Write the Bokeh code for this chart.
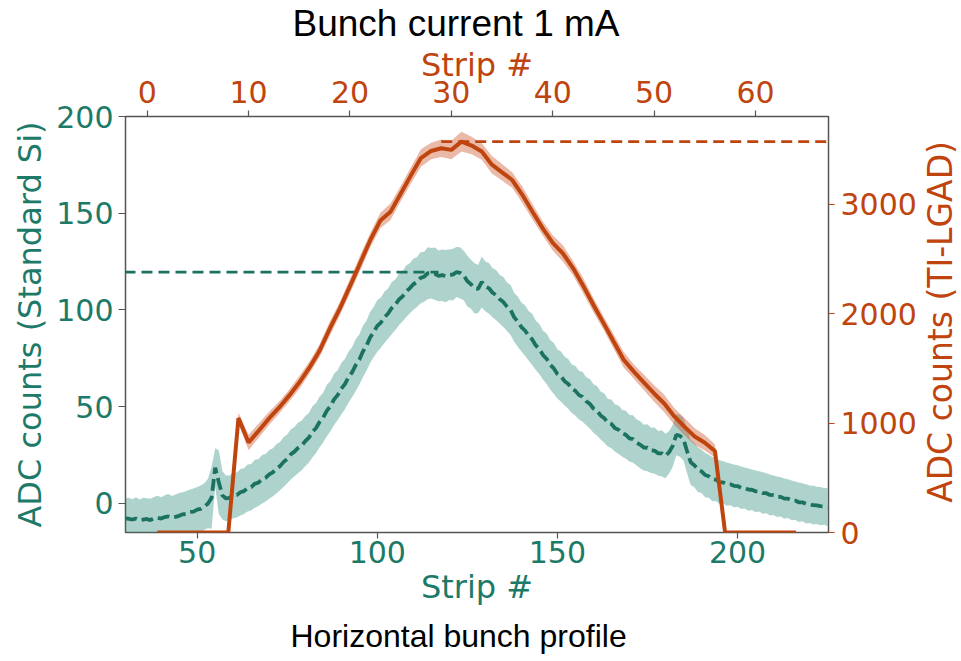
import math
from bokeh.plotting import figure
from bokeh.layouts import row
from bokeh.models import Range1d, LinearAxis, FixedTicker, Title, Label
from bokeh.embed import file_html
from bokeh.resources import INLINE

# ---------------- data ----------------
# Standard Si sensor (bottom "Strip #" axis, left ADC axis)
si_strip = list(range(30, 226))
si_mean = [
    -7.7, -7.9, -8.3, -7.8, -8.6, -8.3, -8.0, -8.6, -7.6, -7.4,
    -7.8, -7.0, -6.7, -7.3, -6.9, -6.4, -5.6, -5.4, -4.4, -4.2,
    -3.2, -2.8, -1.6, 0.0, 3.0, 18.5, 11.0, 4.2, 2.6, 2.9,
    4.2, 4.4, 5.8, 6.4, 8.0, 8.4, 10.2, 10.8, 12.5, 13.3,
    15.0, 16.1, 18.0, 19.3, 21.5, 23.0, 25.4, 26.8, 28.7, 30.0,
    32.2, 34.0, 37.0, 39.0, 42.2, 44.5, 48.0, 50.3, 53.8, 56.0,
    59.3, 61.7, 65.2, 67.8, 71.5, 74.3, 78.5, 81.5, 85.8, 88.6,
    91.8, 93.5, 96.3, 98.2, 101.0, 102.7, 105.4, 107.0, 109.6, 111.2,
    113.3, 114.4, 116.6, 117.2, 119.0, 119.0, 118.7, 117.6, 118.0, 117.5,
    118.2, 118.3, 119.6, 119.2, 117.8, 114.9, 113.3, 111.2, 110.9, 114.5,
    112.2, 111.2, 108.9, 107.7, 105.5, 104.1, 101.7, 100.0, 96.2, 94.0,
    91.2, 89.4, 86.7, 84.8, 81.7, 79.8, 76.7, 74.8, 71.7, 69.8,
    66.9, 65.6, 63.2, 61.8, 59.3, 58.2, 56.0, 55.1, 52.8, 51.5,
    49.1, 47.9, 45.5, 44.1, 41.7, 41.1, 38.9, 38.1, 36.2, 35.5,
    33.7, 33.3, 31.5, 30.3, 28.9, 28.8, 27.4, 27.3, 25.9, 25.9,
    24.6, 26.5, 29.8, 35.5, 35.0, 33.2, 27.0, 21.3, 19.8, 17.5,
    16.6, 14.7, 14.1, 12.6, 12.3, 11.0, 10.9, 10.0, 9.9, 9.1,
    9.0, 8.1, 8.0, 7.2, 7.1, 6.3, 6.2, 5.4, 5.3, 4.4,
    4.3, 3.5, 3.4, 2.5, 2.5, 1.6, 1.5, 0.6, 0.6, -0.2,
    -0.4, -0.9, -1.0, -1.4, -1.5, -1.9,
]
si_err = [
    10.3, 10.8, 10.5, 11.0, 10.6, 11.2, 10.7, 11.1, 10.9, 11.4,
    11.0, 11.3, 11.6, 11.1, 11.5, 11.8, 11.4, 11.9, 11.6, 12.0,
    11.7, 12.1, 12.0, 12.8, 16.0, 10.0, 16.5, 12.5, 11.8, 11.5,
    11.8, 11.6, 12.0, 11.8, 12.2, 12.0, 12.4, 12.1, 12.5, 12.3,
    12.6, 12.4, 12.8, 12.5, 12.9, 12.6, 13.0, 12.7, 13.1, 12.8,
    13.0, 12.8, 13.2, 12.9, 13.1, 12.8, 13.3, 13.0, 13.2, 12.9,
    13.3, 13.0, 13.2, 12.9, 13.4, 13.0, 13.3, 12.9, 13.2, 13.0,
    13.4, 13.0, 13.3, 12.9, 13.5, 13.1, 13.3, 12.9, 13.4, 13.0,
    13.2, 12.8, 13.3, 12.9, 13.4, 13.0, 13.6, 13.1, 13.3, 13.5,
    13.0, 13.4, 12.9, 13.2, 12.8, 13.1, 12.7, 13.0, 12.4, 13.2,
    12.8, 13.1, 12.7, 13.0, 12.6, 12.9, 12.5, 12.9, 12.6, 13.0,
    12.7, 13.1, 12.8, 13.2, 12.7, 13.0, 12.6, 13.1, 12.8, 13.2,
    12.7, 13.0, 12.6, 12.9, 12.5, 12.9, 12.6, 12.8, 12.4, 12.8,
    12.5, 12.8, 12.4, 12.7, 12.3, 12.6, 12.2, 12.5, 12.1, 12.4,
    12.0, 12.3, 11.9, 12.2, 11.8, 12.1, 11.7, 12.0, 11.6, 11.9,
    11.5, 11.0, 10.8, 10.6, 10.8, 11.0, 11.5, 11.7, 11.4, 11.6,
    11.2, 11.5, 11.1, 11.4, 11.0, 11.3, 10.9, 11.2, 10.8, 11.1,
    10.7, 11.0, 10.6, 10.9, 10.5, 10.8, 10.4, 10.7, 10.3, 10.6,
    10.2, 10.5, 10.1, 10.4, 10.0, 10.3, 9.9, 10.2, 9.8, 10.1,
    9.7, 10.0, 9.6, 9.9, 9.5, 9.8,
]

# TI-LGAD sensor (top "Strip #" axis, right ADC axis)
lgad_strip = list(range(1, 65))
lgad_mean = [
    0, 0, 0, 0, 0, 0, 0, 0, 1045, 822,
    930, 1040, 1140, 1250, 1370, 1505, 1660, 1860, 2045, 2250,
    2460, 2670, 2850, 2930, 3095, 3260, 3420, 3485, 3510, 3495,
    3570, 3535, 3480, 3360, 3290, 3220, 3085, 2930, 2780, 2645,
    2550, 2415, 2255, 2080, 1915, 1745, 1578, 1470, 1370, 1270,
    1178, 1060, 965, 877, 820, 745, 0, 0, 0, 0,
    0, 0, 0, 0,
]
lgad_err = [
    0, 0, 0, 0, 0, 0, 0, 0, 50, 70,
    65, 60, 55, 55, 60, 55, 60, 65, 60, 65,
    70, 65, 70, 75, 70, 75, 80, 75, 80, 85,
    90, 80, 75, 80, 75, 70, 75, 70, 65, 70,
    75, 65, 70, 65, 60, 65, 70, 65, 70, 75,
    80, 75, 80, 75, 70, 60, 0, 0, 0, 0,
    0, 0, 0, 0,
]

bottom_ticks = [50, 100, 150, 200]
top_ticks = [0, 10, 20, 30, 40, 50, 60]
left_ticks = [0, 50, 100, 150, 200]
right_ticks = [0, 1000, 2000, 3000]

# ---------------- style ----------------
TEAL = "#1d7a68"
TEAL_LINE = "#1b7260"
TEAL_FILL = "#2a8c7a"
ORANGE = "#c0440e"
ORANGE_FILL = "#c8461a"
FRAME = "#555555"
AXFONT = "DejaVu Sans"
TFONT = "Liberation Sans"

W_MAIN, W_SIDE, H = 920, 40, 660
FRAME_L, FRAME_R = 125, 828

p = figure(width=W_MAIN, height=H, output_backend="svg", toolbar_location=None,
           x_range=Range1d(30.1, 225.25), y_range=Range1d(-15, 200),
           min_border_left=FRAME_L, min_border_right=W_MAIN - FRAME_R,
           min_border_top=116, min_border_bottom=128)
p.extra_x_ranges = {"top": Range1d(-2.14, 67.2)}
p.extra_y_ranges = {"right": Range1d(0, 3800)}

bottom_axis = p.below[0]
left_axis = p.left[0]

p.background_fill_color = "white"
p.border_fill_color = "white"
p.grid.visible = False
p.outline_line_color = FRAME
p.outline_line_width = 1.5

p.title.text = "Bunch current 1 mA"
p.title.text_font = TFONT
p.title.text_font_size = "37px"
p.title.text_font_style = "normal"
p.title.text_color = "black"
p.title.align = "left"
p.title.offset = 167
p.title.standoff = -2

top_axis = LinearAxis(x_range_name="top")
right_axis = LinearAxis(y_range_name="right")
p.add_layout(top_axis, "above")
p.add_layout(right_axis, "right")

def style_axis(ax, ticks, label, color, tick_color):
    ax.ticker = FixedTicker(ticks=ticks)
    ax.axis_label = label
    ax.axis_label_text_font = AXFONT
    ax.axis_label_text_font_size = "32px"
    ax.axis_label_text_font_style = "normal"
    ax.axis_label_text_color = color
    ax.major_label_text_font = AXFONT
    ax.major_label_text_font_size = "30px"
    ax.major_label_text_color = color
    ax.axis_line_color = None
    ax.major_tick_line_color = tick_color
    ax.major_tick_line_width = 1.2
    ax.major_tick_out = 6
    ax.major_tick_in = 0
    ax.minor_tick_line_color = None

style_axis(bottom_axis, bottom_ticks, "Strip #", TEAL, FRAME)
style_axis(left_axis, left_ticks, "ADC counts (Standard Si)", TEAL, FRAME)
style_axis(top_axis, top_ticks, "Strip #", ORANGE, FRAME)
style_axis(right_axis, right_ticks, None, ORANGE, ORANGE)

bottom_axis.major_label_standoff = 2
bottom_axis.axis_label_standoff = 2
top_axis.major_label_standoff = 8
top_axis.axis_label_standoff = -6
left_axis.major_tick_out = 7
left_axis.major_label_standoff = 5
left_axis.axis_label_standoff = 4
right_axis.major_label_standoff = 6

p.add_layout(Title(text="Horizontal bunch profile", align="left", offset=165,
                   text_font=TFONT, text_font_size="32px", text_font_style="normal",
                   text_color="black", standoff=14), "below")

# ---------------- glyphs ----------------
si_lo = [m - e for m, e in zip(si_mean, si_err)]
si_hi = [m + e for m, e in zip(si_mean, si_err)]
p.varea(x=si_strip, y1=si_lo, y2=si_hi, fill_color=TEAL_FILL, fill_alpha=0.38)
p.line(si_strip, si_mean, line_color=TEAL_LINE, line_width=3.8, line_dash="12 5")

si_max = max(si_mean)
si_ref_end = next(s for s, m in zip(si_strip, si_mean) if m >= 0.99 * si_max)
p.line([p.x_range.start - 5, si_ref_end + 3], [si_max, si_max], line_color=TEAL_LINE,
       line_width=2.8, line_dash="11 6")

lg_lo = [m - e for m, e in zip(lgad_mean, lgad_err)]
lg_hi = [m + e for m, e in zip(lgad_mean, lgad_err)]
p.varea(x=lgad_strip, y1=lg_lo, y2=lg_hi, fill_color=ORANGE_FILL, fill_alpha=0.38,
        x_range_name="top", y_range_name="right")
p.line(lgad_strip, lgad_mean, line_color=ORANGE, line_width=4,
       x_range_name="top", y_range_name="right")

lg_max = max(lgad_mean)
lg_ref_start = next(s for s, m in zip(lgad_strip, lgad_mean) if m >= 0.98 * lg_max)
p.line([lg_ref_start, 75], [lg_max, lg_max], line_color=ORANGE, line_width=2.8,
       line_dash="11 6", x_range_name="top", y_range_name="right")

# ---------------- right-hand axis title (reads bottom-to-top) ----------------
side = figure(width=W_SIDE, height=H, output_backend="svg", toolbar_location=None,
              x_range=Range1d(0, W_SIDE), y_range=Range1d(0, H),
              x_axis_type=None, y_axis_type=None, min_border=0)
side.outline_line_color = None
side.grid.visible = False
side.background_fill_color = "white"
side.border_fill_color = "white"
side.add_layout(Label(x=20, y=H - 326, text="ADC counts (TI-LGAD)",
                      angle=math.pi / 2, text_align="center", text_baseline="middle",
                      text_font=AXFONT, text_font_size="33px", text_color=ORANGE))

layout = row(p, side, spacing=0)
open("out.html", "w").write(file_html(layout, INLINE))
